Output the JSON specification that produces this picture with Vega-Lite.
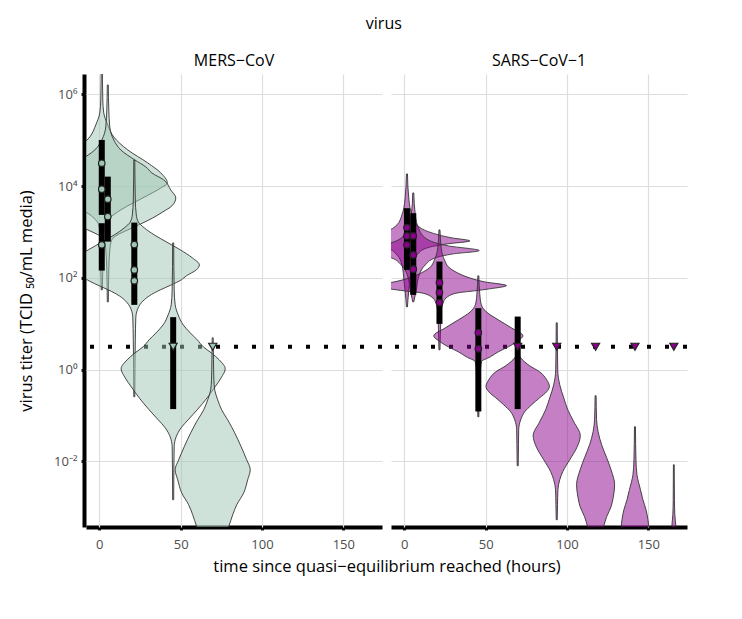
{
"$schema": "https://vega.github.io/schema/vega-lite/v6.json",
"padding": {"left": 18, "top": 16, "right": 5, "bottom": 5},
"title": {"text": "virus", "fontSize": 16, "fontWeight": "normal", "font": "Open Sans", "color": "black", "anchor": "middle", "frame": "bounds", "dx": 30, "offset": 21},
"data": {"values": [
{"virus":"MERS−CoV","kind":"lodline","L":0.5},
{"virus":"SARS−CoV−1","kind":"lodline","L":0.5},
{"virus":"MERS−CoV","kind":"violin","vid":"M1","L":6.747,"lo":1.19,"hi":1.81},
{"virus":"MERS−CoV","kind":"violin","vid":"M1","L":5.876,"lo":0.88,"hi":2.12},
{"virus":"MERS−CoV","kind":"violin","vid":"M1","L":5.593,"lo":0.27,"hi":2.73},
{"virus":"MERS−CoV","kind":"violin","vid":"M1","L":5.332,"lo":-2.19,"hi":5.19},
{"virus":"MERS−CoV","kind":"violin","vid":"M1","L":5.07,"lo":-5.88,"hi":8.88},
{"virus":"MERS−CoV","kind":"violin","vid":"M1","L":4.787,"lo":-14.5,"hi":17.5},
{"virus":"MERS−CoV","kind":"violin","vid":"M1","L":4.504,"lo":-26.8,"hi":29.8},
{"virus":"MERS−CoV","kind":"violin","vid":"M1","L":4.286,"lo":-34.8,"hi":37.8},
{"virus":"MERS−CoV","kind":"violin","vid":"M1","L":4.069,"lo":-38.8,"hi":41.8},
{"virus":"MERS−CoV","kind":"violin","vid":"M1","L":3.96,"lo":-34.8,"hi":37.8},
{"virus":"MERS−CoV","kind":"violin","vid":"M1","L":3.764,"lo":-24.9,"hi":27.9},
{"virus":"MERS−CoV","kind":"violin","vid":"M1","L":3.481,"lo":-10.2,"hi":13.2},
{"virus":"MERS−CoV","kind":"violin","vid":"M1","L":3.307,"lo":-3.42,"hi":6.42},
{"virus":"MERS−CoV","kind":"violin","vid":"M1","L":3.154,"lo":-0.35,"hi":3.35},
{"virus":"MERS−CoV","kind":"violin","vid":"M1","L":2.827,"lo":0.58,"hi":2.42},
{"virus":"MERS−CoV","kind":"violin","vid":"M1","L":2.174,"lo":0.88,"hi":2.12},
{"virus":"MERS−CoV","kind":"violin","vid":"M1","L":1.739,"lo":1.19,"hi":1.81},
{"virus":"MERS−CoV","kind":"violin","vid":"M2","L":6.203,"lo":4.89,"hi":5.51},
{"virus":"MERS−CoV","kind":"violin","vid":"M2","L":5.658,"lo":4.58,"hi":5.82},
{"virus":"MERS−CoV","kind":"violin","vid":"M2","L":5.288,"lo":3.97,"hi":6.43},
{"virus":"MERS−CoV","kind":"violin","vid":"M2","L":5.005,"lo":1.51,"hi":8.89},
{"virus":"MERS−CoV","kind":"violin","vid":"M2","L":4.787,"lo":-2.8,"hi":13.2},
{"virus":"MERS−CoV","kind":"violin","vid":"M2","L":4.57,"lo":-11.4,"hi":21.8},
{"virus":"MERS−CoV","kind":"violin","vid":"M2","L":4.417,"lo":-18.2,"hi":28.6},
{"virus":"MERS−CoV","kind":"violin","vid":"M2","L":4.286,"lo":-21.9,"hi":32.3},
{"virus":"MERS−CoV","kind":"violin","vid":"M2","L":4.134,"lo":-29.2,"hi":39.6},
{"virus":"MERS−CoV","kind":"violin","vid":"M2","L":3.916,"lo":-33.5,"hi":43.9},
{"virus":"MERS−CoV","kind":"violin","vid":"M2","L":3.742,"lo":-36.6,"hi":47.0},
{"virus":"MERS−CoV","kind":"violin","vid":"M2","L":3.568,"lo":-34.2,"hi":44.6},
{"virus":"MERS−CoV","kind":"violin","vid":"M2","L":3.437,"lo":-28.6,"hi":39.0},
{"virus":"MERS−CoV","kind":"violin","vid":"M2","L":3.307,"lo":-22.5,"hi":32.9},
{"virus":"MERS−CoV","kind":"violin","vid":"M2","L":3.176,"lo":-15.1,"hi":25.5},
{"virus":"MERS−CoV","kind":"violin","vid":"M2","L":3.045,"lo":-7.1,"hi":17.5},
{"virus":"MERS−CoV","kind":"violin","vid":"M2","L":2.915,"lo":0.28,"hi":10.12},
{"virus":"MERS−CoV","kind":"violin","vid":"M2","L":2.806,"lo":3.05,"hi":7.35},
{"virus":"MERS−CoV","kind":"violin","vid":"M2","L":2.61,"lo":3.97,"hi":6.43},
{"virus":"MERS−CoV","kind":"violin","vid":"M2","L":2.174,"lo":4.58,"hi":5.82},
{"virus":"MERS−CoV","kind":"violin","vid":"M2","L":1.477,"lo":4.89,"hi":5.51},
{"virus":"MERS−CoV","kind":"violin","vid":"M3","L":4.57,"lo":21.19,"hi":21.81},
{"virus":"MERS−CoV","kind":"violin","vid":"M3","L":3.698,"lo":20.88,"hi":22.12},
{"virus":"MERS−CoV","kind":"violin","vid":"M3","L":3.372,"lo":20.27,"hi":22.73},
{"virus":"MERS−CoV","kind":"violin","vid":"M3","L":3.219,"lo":19.04,"hi":23.96},
{"virus":"MERS−CoV","kind":"violin","vid":"M3","L":3.089,"lo":15.35,"hi":27.65},
{"virus":"MERS−CoV","kind":"violin","vid":"M3","L":2.936,"lo":9.2,"hi":33.8},
{"virus":"MERS−CoV","kind":"violin","vid":"M3","L":2.784,"lo":1.8,"hi":41.2},
{"virus":"MERS−CoV","kind":"violin","vid":"M3","L":2.61,"lo":-6.8,"hi":49.8},
{"virus":"MERS−CoV","kind":"violin","vid":"M3","L":2.436,"lo":-14.2,"hi":57.2},
{"virus":"MERS−CoV","kind":"violin","vid":"M3","L":2.283,"lo":-18.5,"hi":61.5},
{"virus":"MERS−CoV","kind":"violin","vid":"M3","L":2.174,"lo":-16.6,"hi":59.6},
{"virus":"MERS−CoV","kind":"violin","vid":"M3","L":2.044,"lo":-10.5,"hi":53.5},
{"virus":"MERS−CoV","kind":"violin","vid":"M3","L":1.957,"lo":-7.4,"hi":50.4},
{"virus":"MERS−CoV","kind":"violin","vid":"M3","L":1.848,"lo":-1.3,"hi":44.3},
{"virus":"MERS−CoV","kind":"violin","vid":"M3","L":1.739,"lo":5.5,"hi":37.5},
{"virus":"MERS−CoV","kind":"violin","vid":"M3","L":1.608,"lo":12.3,"hi":30.7},
{"virus":"MERS−CoV","kind":"violin","vid":"M3","L":1.456,"lo":17.2,"hi":25.8},
{"virus":"MERS−CoV","kind":"violin","vid":"M3","L":1.303,"lo":19.65,"hi":23.35},
{"virus":"MERS−CoV","kind":"violin","vid":"M3","L":1.129,"lo":20.58,"hi":22.42},
{"virus":"MERS−CoV","kind":"violin","vid":"M3","L":0.65,"lo":20.88,"hi":22.12},
{"virus":"MERS−CoV","kind":"violin","vid":"M3","L":-0.591,"lo":21.19,"hi":21.81},
{"virus":"MERS−CoV","kind":"violin","vid":"M4","L":2.762,"lo":45.09,"hi":45.71},
{"virus":"MERS−CoV","kind":"violin","vid":"M4","L":1.739,"lo":44.78,"hi":46.02},
{"virus":"MERS−CoV","kind":"violin","vid":"M4","L":1.412,"lo":44.17,"hi":46.63},
{"virus":"MERS−CoV","kind":"violin","vid":"M4","L":1.194,"lo":42.32,"hi":48.48},
{"virus":"MERS−CoV","kind":"violin","vid":"M4","L":0.977,"lo":39.25,"hi":51.55},
{"virus":"MERS−CoV","kind":"violin","vid":"M4","L":0.802,"lo":34.9,"hi":55.9},
{"virus":"MERS−CoV","kind":"violin","vid":"M4","L":0.65,"lo":30.6,"hi":60.2},
{"virus":"MERS−CoV","kind":"violin","vid":"M4","L":0.498,"lo":26.9,"hi":63.9},
{"virus":"MERS−CoV","kind":"violin","vid":"M4","L":0.367,"lo":22.0,"hi":68.8},
{"virus":"MERS−CoV","kind":"violin","vid":"M4","L":0.214,"lo":17.1,"hi":73.7},
{"virus":"MERS−CoV","kind":"violin","vid":"M4","L":0.019,"lo":13.4,"hi":77.4},
{"virus":"MERS−CoV","kind":"violin","vid":"M4","L":-0.177,"lo":15.9,"hi":74.9},
{"virus":"MERS−CoV","kind":"violin","vid":"M4","L":-0.373,"lo":19.6,"hi":71.2},
{"virus":"MERS−CoV","kind":"violin","vid":"M4","L":-0.613,"lo":24.5,"hi":66.3},
{"virus":"MERS−CoV","kind":"violin","vid":"M4","L":-0.874,"lo":30.6,"hi":60.2},
{"virus":"MERS−CoV","kind":"violin","vid":"M4","L":-1.092,"lo":36.2,"hi":54.6},
{"virus":"MERS−CoV","kind":"violin","vid":"M4","L":-1.266,"lo":40.5,"hi":50.3},
{"virus":"MERS−CoV","kind":"violin","vid":"M4","L":-1.462,"lo":43.55,"hi":47.25},
{"virus":"MERS−CoV","kind":"violin","vid":"M4","L":-1.68,"lo":44.78,"hi":46.02},
{"virus":"MERS−CoV","kind":"violin","vid":"M4","L":-2.181,"lo":44.97,"hi":45.83},
{"virus":"MERS−CoV","kind":"violin","vid":"M4","L":-2.834,"lo":45.09,"hi":45.71},
{"virus":"MERS−CoV","kind":"violin","vid":"M5","L":0.694,"lo":69.39,"hi":70.01},
{"virus":"MERS−CoV","kind":"violin","vid":"M5","L":0.214,"lo":69.21,"hi":70.19},
{"virus":"MERS−CoV","kind":"violin","vid":"M5","L":-0.221,"lo":68.96,"hi":70.44},
{"virus":"MERS−CoV","kind":"violin","vid":"M5","L":-0.439,"lo":68.47,"hi":70.93},
{"virus":"MERS−CoV","kind":"violin","vid":"M5","L":-0.657,"lo":66.62,"hi":72.78},
{"virus":"MERS−CoV","kind":"violin","vid":"M5","L":-0.874,"lo":64.2,"hi":75.2},
{"virus":"MERS−CoV","kind":"violin","vid":"M5","L":-1.092,"lo":60.5,"hi":78.9},
{"virus":"MERS−CoV","kind":"violin","vid":"M5","L":-1.375,"lo":56.2,"hi":83.2},
{"virus":"MERS−CoV","kind":"violin","vid":"M5","L":-1.68,"lo":52.2,"hi":87.2},
{"virus":"MERS−CoV","kind":"violin","vid":"M5","L":-1.963,"lo":48.8,"hi":90.6},
{"virus":"MERS−CoV","kind":"violin","vid":"M5","L":-2.181,"lo":46.6,"hi":92.8},
{"virus":"MERS−CoV","kind":"violin","vid":"M5","L":-2.399,"lo":48.2,"hi":91.2},
{"virus":"MERS−CoV","kind":"violin","vid":"M5","L":-2.682,"lo":50.6,"hi":88.8},
{"virus":"MERS−CoV","kind":"violin","vid":"M5","L":-2.943,"lo":54.9,"hi":84.5},
{"virus":"MERS−CoV","kind":"violin","vid":"M5","L":-3.161,"lo":57.4,"hi":82.0},
{"virus":"MERS−CoV","kind":"violin","vid":"M5","L":-3.422,"lo":59.9,"hi":79.5},
{"virus":"MERS−CoV","kind":"violin","vid":"M5","L":-3.814,"lo":64.8,"hi":74.6},
{"virus":"SARS−CoV−1","kind":"violin","vid":"S1","L":4.265,"lo":1.29,"hi":1.91},
{"virus":"SARS−CoV−1","kind":"violin","vid":"S1","L":3.698,"lo":0.37,"hi":2.83},
{"virus":"SARS−CoV−1","kind":"violin","vid":"S1","L":3.372,"lo":-1.48,"hi":4.68},
{"virus":"SARS−CoV−1","kind":"violin","vid":"S1","L":3.154,"lo":-4.55,"hi":7.75},
{"virus":"SARS−CoV−1","kind":"violin","vid":"S1","L":3.002,"lo":-11.9,"hi":15.1},
{"virus":"SARS−CoV−1","kind":"violin","vid":"S1","L":2.871,"lo":-26.1,"hi":29.3},
{"virus":"SARS−CoV−1","kind":"violin","vid":"S1","L":2.806,"lo":-37.1,"hi":40.3},
{"virus":"SARS−CoV−1","kind":"violin","vid":"S1","L":2.74,"lo":-23.0,"hi":26.2},
{"virus":"SARS−CoV−1","kind":"violin","vid":"S1","L":2.653,"lo":-10.7,"hi":13.9},
{"virus":"SARS−CoV−1","kind":"violin","vid":"S1","L":2.501,"lo":-4.55,"hi":7.75},
{"virus":"SARS−CoV−1","kind":"violin","vid":"S1","L":2.283,"lo":-1.48,"hi":4.68},
{"virus":"SARS−CoV−1","kind":"violin","vid":"S1","L":1.957,"lo":-0.25,"hi":3.45},
{"virus":"SARS−CoV−1","kind":"violin","vid":"S1","L":1.521,"lo":0.98,"hi":2.22},
{"virus":"SARS−CoV−1","kind":"violin","vid":"S1","L":1.369,"lo":1.29,"hi":1.91},
{"virus":"SARS−CoV−1","kind":"violin","vid":"S2","L":3.851,"lo":5.19,"hi":5.81},
{"virus":"SARS−CoV−1","kind":"violin","vid":"S2","L":3.372,"lo":4.27,"hi":6.73},
{"virus":"SARS−CoV−1","kind":"violin","vid":"S2","L":3.045,"lo":1.81,"hi":9.19},
{"virus":"SARS−CoV−1","kind":"violin","vid":"S2","L":2.827,"lo":-3.7,"hi":14.7},
{"virus":"SARS−CoV−1","kind":"violin","vid":"S2","L":2.697,"lo":-16.0,"hi":27.0},
{"virus":"SARS−CoV−1","kind":"violin","vid":"S2","L":2.594,"lo":-35.1,"hi":46.1},
{"virus":"SARS−CoV−1","kind":"violin","vid":"S2","L":2.523,"lo":-19.1,"hi":30.1},
{"virus":"SARS−CoV−1","kind":"violin","vid":"S2","L":2.436,"lo":-8.0,"hi":19.0},
{"virus":"SARS−CoV−1","kind":"violin","vid":"S2","L":2.283,"lo":-1.9,"hi":12.9},
{"virus":"SARS−CoV−1","kind":"violin","vid":"S2","L":2.065,"lo":1.81,"hi":9.19},
{"virus":"SARS−CoV−1","kind":"violin","vid":"S2","L":1.739,"lo":3.65,"hi":7.35},
{"virus":"SARS−CoV−1","kind":"violin","vid":"S2","L":1.477,"lo":5.19,"hi":5.81},
{"virus":"SARS−CoV−1","kind":"violin","vid":"S3","L":3.045,"lo":21.29,"hi":21.91},
{"virus":"SARS−CoV−1","kind":"violin","vid":"S3","L":2.61,"lo":20.37,"hi":22.83},
{"virus":"SARS−CoV−1","kind":"violin","vid":"S3","L":2.392,"lo":18.52,"hi":24.68},
{"virus":"SARS−CoV−1","kind":"violin","vid":"S3","L":2.218,"lo":15.45,"hi":27.75},
{"virus":"SARS−CoV−1","kind":"violin","vid":"S3","L":2.109,"lo":10.5,"hi":32.7},
{"virus":"SARS−CoV−1","kind":"violin","vid":"S3","L":2.0,"lo":3.1,"hi":40.1},
{"virus":"SARS−CoV−1","kind":"violin","vid":"S3","L":1.913,"lo":-6.1,"hi":49.3},
{"virus":"SARS−CoV−1","kind":"violin","vid":"S3","L":1.832,"lo":-19.6,"hi":62.8},
{"virus":"SARS−CoV−1","kind":"violin","vid":"S3","L":1.761,"lo":-9.2,"hi":52.4},
{"virus":"SARS−CoV−1","kind":"violin","vid":"S3","L":1.717,"lo":0.1,"hi":43.1},
{"virus":"SARS−CoV−1","kind":"violin","vid":"S3","L":1.673,"lo":10.5,"hi":32.7},
{"virus":"SARS−CoV−1","kind":"violin","vid":"S3","L":1.586,"lo":16.68,"hi":26.52},
{"virus":"SARS−CoV−1","kind":"violin","vid":"S3","L":1.477,"lo":19.14,"hi":24.06},
{"virus":"SARS−CoV−1","kind":"violin","vid":"S3","L":1.303,"lo":20.37,"hi":22.83},
{"virus":"SARS−CoV−1","kind":"violin","vid":"S3","L":0.868,"lo":20.98,"hi":22.22},
{"virus":"SARS−CoV−1","kind":"violin","vid":"S3","L":0.432,"lo":21.29,"hi":21.91},
{"virus":"SARS−CoV−1","kind":"violin","vid":"S4","L":2.044,"lo":45.19,"hi":45.81},
{"virus":"SARS−CoV−1","kind":"violin","vid":"S4","L":1.63,"lo":44.58,"hi":46.42},
{"virus":"SARS−CoV−1","kind":"violin","vid":"S4","L":1.412,"lo":43.65,"hi":47.35},
{"virus":"SARS−CoV−1","kind":"violin","vid":"S4","L":1.26,"lo":40.58,"hi":50.42},
{"virus":"SARS−CoV−1","kind":"violin","vid":"S4","L":1.085,"lo":33.2,"hi":57.8},
{"virus":"SARS−CoV−1","kind":"violin","vid":"S4","L":0.911,"lo":25.2,"hi":65.8},
{"virus":"SARS−CoV−1","kind":"violin","vid":"S4","L":0.737,"lo":18.1,"hi":72.9},
{"virus":"SARS−CoV−1","kind":"violin","vid":"S4","L":0.606,"lo":22.1,"hi":68.9},
{"virus":"SARS−CoV−1","kind":"violin","vid":"S4","L":0.498,"lo":27.0,"hi":64.0},
{"virus":"SARS−CoV−1","kind":"violin","vid":"S4","L":0.389,"lo":33.2,"hi":57.8},
{"virus":"SARS−CoV−1","kind":"violin","vid":"S4","L":0.28,"lo":38.1,"hi":52.9},
{"virus":"SARS−CoV−1","kind":"violin","vid":"S4","L":0.171,"lo":43.65,"hi":47.35},
{"virus":"SARS−CoV−1","kind":"violin","vid":"S4","L":-0.221,"lo":44.58,"hi":46.42},
{"virus":"SARS−CoV−1","kind":"violin","vid":"S4","L":-1.027,"lo":45.19,"hi":45.81},
{"virus":"SARS−CoV−1","kind":"violin","vid":"S5","L":0.389,"lo":69.39,"hi":70.01},
{"virus":"SARS−CoV−1","kind":"violin","vid":"S5","L":0.258,"lo":67.85,"hi":71.55},
{"virus":"SARS−CoV−1","kind":"violin","vid":"S5","L":0.084,"lo":62.3,"hi":77.1},
{"virus":"SARS−CoV−1","kind":"violin","vid":"S5","L":-0.047,"lo":56.2,"hi":83.2},
{"virus":"SARS−CoV−1","kind":"violin","vid":"S5","L":-0.221,"lo":51.9,"hi":87.5},
{"virus":"SARS−CoV−1","kind":"violin","vid":"S5","L":-0.367,"lo":50.2,"hi":89.2},
{"virus":"SARS−CoV−1","kind":"violin","vid":"S5","L":-0.482,"lo":51.9,"hi":87.5},
{"virus":"SARS−CoV−1","kind":"violin","vid":"S5","L":-0.613,"lo":56.2,"hi":83.2},
{"virus":"SARS−CoV−1","kind":"violin","vid":"S5","L":-0.765,"lo":61.1,"hi":78.3},
{"virus":"SARS−CoV−1","kind":"violin","vid":"S5","L":-0.918,"lo":65.4,"hi":74.0},
{"virus":"SARS−CoV−1","kind":"violin","vid":"S5","L":-1.092,"lo":67.85,"hi":71.55},
{"virus":"SARS−CoV−1","kind":"violin","vid":"S5","L":-1.31,"lo":69.08,"hi":70.32},
{"virus":"SARS−CoV−1","kind":"violin","vid":"S5","L":-1.636,"lo":69.21,"hi":70.19},
{"virus":"SARS−CoV−1","kind":"violin","vid":"S5","L":-2.094,"lo":69.39,"hi":70.01},
{"virus":"SARS−CoV−1","kind":"violin","vid":"S6","L":1.02,"lo":93.39,"hi":94.01},
{"virus":"SARS−CoV−1","kind":"violin","vid":"S6","L":-0.003,"lo":93.08,"hi":94.32},
{"virus":"SARS−CoV−1","kind":"violin","vid":"S6","L":-0.33,"lo":91.85,"hi":95.55},
{"virus":"SARS−CoV−1","kind":"violin","vid":"S6","L":-0.613,"lo":89.4,"hi":98.0},
{"virus":"SARS−CoV−1","kind":"violin","vid":"S6","L":-0.874,"lo":86.9,"hi":100.5},
{"virus":"SARS−CoV−1","kind":"violin","vid":"S6","L":-1.136,"lo":83.2,"hi":104.2},
{"virus":"SARS−CoV−1","kind":"violin","vid":"S6","L":-1.44,"lo":79.2,"hi":108.2},
{"virus":"SARS−CoV−1","kind":"violin","vid":"S6","L":-1.702,"lo":81.4,"hi":106.0},
{"virus":"SARS−CoV−1","kind":"violin","vid":"S6","L":-1.963,"lo":85.7,"hi":101.7},
{"virus":"SARS−CoV−1","kind":"violin","vid":"S6","L":-2.224,"lo":90.0,"hi":97.4},
{"virus":"SARS−CoV−1","kind":"violin","vid":"S6","L":-2.399,"lo":91.85,"hi":95.55},
{"virus":"SARS−CoV−1","kind":"violin","vid":"S6","L":-2.616,"lo":92.96,"hi":94.44},
{"virus":"SARS−CoV−1","kind":"violin","vid":"S6","L":-2.943,"lo":93.21,"hi":94.19},
{"virus":"SARS−CoV−1","kind":"violin","vid":"S6","L":-3.27,"lo":93.39,"hi":94.01},
{"virus":"SARS−CoV−1","kind":"violin","vid":"S7","L":-0.569,"lo":117.29,"hi":117.91},
{"virus":"SARS−CoV−1","kind":"violin","vid":"S7","L":-1.092,"lo":116.98,"hi":118.22},
{"virus":"SARS−CoV−1","kind":"violin","vid":"S7","L":-1.353,"lo":116.06,"hi":119.14},
{"virus":"SARS−CoV−1","kind":"violin","vid":"S7","L":-1.636,"lo":113.9,"hi":121.3},
{"virus":"SARS−CoV−1","kind":"violin","vid":"S7","L":-1.919,"lo":110.8,"hi":124.4},
{"virus":"SARS−CoV−1","kind":"violin","vid":"S7","L":-2.181,"lo":108.1,"hi":127.1},
{"virus":"SARS−CoV−1","kind":"violin","vid":"S7","L":-2.507,"lo":105.9,"hi":129.3},
{"virus":"SARS−CoV−1","kind":"violin","vid":"S7","L":-2.79,"lo":106.8,"hi":128.4},
{"virus":"SARS−CoV−1","kind":"violin","vid":"S7","L":-2.986,"lo":108.1,"hi":127.1},
{"virus":"SARS−CoV−1","kind":"violin","vid":"S7","L":-3.204,"lo":110.8,"hi":124.4},
{"virus":"SARS−CoV−1","kind":"violin","vid":"S7","L":-3.422,"lo":112.7,"hi":122.5},
{"virus":"SARS−CoV−1","kind":"violin","vid":"S7","L":-3.814,"lo":115.75,"hi":119.45},
{"virus":"SARS−CoV−1","kind":"violin","vid":"S8","L":-1.244,"lo":141.49,"hi":142.11},
{"virus":"SARS−CoV−1","kind":"violin","vid":"S8","L":-1.963,"lo":141.18,"hi":142.42},
{"virus":"SARS−CoV−1","kind":"violin","vid":"S8","L":-2.29,"lo":140.57,"hi":143.03},
{"virus":"SARS−CoV−1","kind":"violin","vid":"S8","L":-2.616,"lo":138.4,"hi":145.2},
{"virus":"SARS−CoV−1","kind":"violin","vid":"S8","L":-2.834,"lo":136.9,"hi":146.7},
{"virus":"SARS−CoV−1","kind":"violin","vid":"S8","L":-3.052,"lo":135.0,"hi":148.6},
{"virus":"SARS−CoV−1","kind":"violin","vid":"S8","L":-3.27,"lo":133.8,"hi":149.8},
{"virus":"SARS−CoV−1","kind":"violin","vid":"S8","L":-3.422,"lo":133.4,"hi":150.2},
{"virus":"SARS−CoV−1","kind":"violin","vid":"S8","L":-3.814,"lo":133.2,"hi":150.4},
{"virus":"SARS−CoV−1","kind":"violin","vid":"S9","L":-2.072,"lo":165.45,"hi":165.95},
{"virus":"SARS−CoV−1","kind":"violin","vid":"S9","L":-2.834,"lo":165.33,"hi":166.07},
{"virus":"SARS−CoV−1","kind":"violin","vid":"S9","L":-3.161,"lo":165.08,"hi":166.32},
{"virus":"SARS−CoV−1","kind":"violin","vid":"S9","L":-3.422,"lo":164.47,"hi":166.93},
{"virus":"SARS−CoV−1","kind":"violin","vid":"S9","L":-3.814,"lo":163.85,"hi":167.55},
{"virus":"MERS−CoV","kind":"bar","t":1.5,"L":5.005,"L2":3.372},
{"virus":"MERS−CoV","kind":"bar","t":1.5,"L":3.191,"L2":2.159},
{"virus":"MERS−CoV","kind":"bar","t":5.2,"L":4.206,"L2":2.79},
{"virus":"MERS−CoV","kind":"bar","t":21.5,"L":3.204,"L2":1.412},
{"virus":"MERS−CoV","kind":"bar","t":45.4,"L":1.144,"L2":-0.859},
{"virus":"SARS−CoV−1","kind":"bar","t":1.6,"L":3.518,"L2":2.174},
{"virus":"SARS−CoV−1","kind":"bar","t":5.5,"L":3.409,"L2":1.63},
{"virus":"SARS−CoV−1","kind":"bar","t":21.6,"L":2.355,"L2":0.998},
{"virus":"SARS−CoV−1","kind":"bar","t":45.5,"L":1.34,"L2":-0.911},
{"virus":"SARS−CoV−1","kind":"bar","t":69.7,"L":1.157,"L2":-0.859},
{"virus":"MERS−CoV","kind":"obs","t":1.5,"L":4.498},
{"virus":"MERS−CoV","kind":"obs","t":1.5,"L":3.932},
{"virus":"MERS−CoV","kind":"obs","t":1.5,"L":2.719},
{"virus":"MERS−CoV","kind":"obs","t":5.2,"L":3.714},
{"virus":"MERS−CoV","kind":"obs","t":5.2,"L":3.335},
{"virus":"MERS−CoV","kind":"obs","t":21.5,"L":2.725},
{"virus":"MERS−CoV","kind":"obs","t":21.5,"L":2.174},
{"virus":"MERS−CoV","kind":"obs","t":21.5,"L":1.935},
{"virus":"SARS−CoV−1","kind":"obs","t":1.6,"L":3.095},
{"virus":"SARS−CoV−1","kind":"obs","t":1.6,"L":2.915},
{"virus":"SARS−CoV−1","kind":"obs","t":1.6,"L":2.719},
{"virus":"SARS−CoV−1","kind":"obs","t":5.5,"L":2.915},
{"virus":"SARS−CoV−1","kind":"obs","t":5.5,"L":2.501},
{"virus":"SARS−CoV−1","kind":"obs","t":5.5,"L":2.189},
{"virus":"SARS−CoV−1","kind":"obs","t":21.6,"L":1.898},
{"virus":"SARS−CoV−1","kind":"obs","t":21.6,"L":1.68},
{"virus":"SARS−CoV−1","kind":"obs","t":21.6,"L":1.462},
{"virus":"SARS−CoV−1","kind":"obs","t":45.5,"L":0.809},
{"virus":"SARS−CoV−1","kind":"obs","t":45.5,"L":0.454},
{"virus":"MERS−CoV","kind":"lod","t":45.4,"L":0.5},
{"virus":"MERS−CoV","kind":"lod","t":69.7,"L":0.5},
{"virus":"SARS−CoV−1","kind":"lod","t":69.7,"L":0.5},
{"virus":"SARS−CoV−1","kind":"lod","t":93.7,"L":0.5},
{"virus":"SARS−CoV−1","kind":"lod","t":117.6,"L":0.5},
{"virus":"SARS−CoV−1","kind":"lod","t":141.8,"L":0.5},
{"virus":"SARS−CoV−1","kind":"lod","t":165.7,"L":0.5}
]},
"facet": {"column": {"field": "virus", "type": "nominal", "sort": ["MERS−CoV", "SARS−CoV−1"],
  "title": "time since quasi−equilibrium reached (hours)",
  "header": {"labelOrient": "top", "titleOrient": "bottom", "labelFontSize": 16, "labelFont": "Open Sans", "labelColor": "black", "labelPadding": 5, "titleFontSize": 16.5, "titleFont": "Open Sans", "titleFontWeight": "normal", "titleColor": "black", "titlePadding": -2}}},
"spacing": 5,
"spec": {
  "width": 296, "height": 453,
  "layer": [
    {"transform": [{"filter": "datum.kind == 'lodline'"}],
     "mark": {"type": "rule", "color": "black", "strokeWidth": 4, "strokeDash": [4, 14], "strokeCap": "butt"},
     "encoding": {"y": {"field": "L", "type": "quantitative", "scale": {"domain": [-3.428, 6.442], "nice": false, "zero": false},
        "axis": {"title": "virus titer (TCID  ₅₀/mL media)", "values": [-2, 0, 2, 4, 6],
          "labelExpr": "datum.value == 6 ? '10⁶' : datum.value == 4 ? '10⁴' : datum.value == 2 ? '10²' : datum.value == 0 ? '10⁰' : '10⁻²'"}}}},
    {"transform": [{"filter": "datum.kind == 'violin'"}],
     "mark": {"type": "area", "orient": "horizontal", "clip": true, "fillOpacity": 0.5, "stroke": "#333333", "strokeWidth": 0.9, "interpolate": "monotone"},
     "encoding": {
       "y": {"field": "L", "type": "quantitative"},
       "x": {"field": "hi", "type": "quantitative", "scale": {"domain": [-8.2, 173.8], "nice": false, "zero": false}, "axis": {"title": null, "values": [0, 50, 100, 150]}},
       "x2": {"field": "lo"},
       "fill": {"field": "virus", "type": "nominal", "scale": {"domain": ["MERS−CoV", "SARS−CoV−1"], "range": ["#9fc5b3", "#8b008b"]}, "legend": null},
       "detail": {"field": "vid"}}},
    {"transform": [{"filter": "datum.kind == 'bar'"}],
     "mark": {"type": "rule", "color": "black", "strokeWidth": 6, "strokeCap": "butt"},
     "encoding": {"x": {"field": "t", "type": "quantitative"}, "y": {"field": "L", "type": "quantitative"}, "y2": {"field": "L2"}}},
    {"transform": [{"filter": "datum.kind == 'obs'"}],
     "mark": {"type": "point", "shape": "circle", "filled": true, "size": 42, "stroke": "#222222", "strokeWidth": 1.2, "opacity": 1},
     "encoding": {"x": {"field": "t", "type": "quantitative"}, "y": {"field": "L", "type": "quantitative"}, "fill": {"field": "virus", "type": "nominal", "legend": null}}},
    {"transform": [{"filter": "datum.kind == 'lod'"}],
     "mark": {"type": "point", "shape": "triangle-down", "filled": true, "size": 65, "stroke": "#222222", "strokeWidth": 1.2, "opacity": 1},
     "encoding": {"x": {"field": "t", "type": "quantitative"}, "y": {"field": "L", "type": "quantitative"}, "fill": {"field": "virus", "type": "nominal", "legend": null}}}
  ]
},
"config": {
  "font": "Open Sans",
  "view": {"stroke": null},
  "axis": {"grid": true, "gridColor": "#dedede", "gridWidth": 1.2, "domainColor": "black", "domainWidth": 4, "tickColor": "#222222", "tickSize": 3, "tickWidth": 3, "labelColor": "#4d4d4d", "labelFontSize": 13, "labelFont": "Open Sans", "labelPadding": 4, "titleFont": "Open Sans", "titleFontSize": 16.5, "titleFontWeight": "normal", "titleColor": "black"},
  "axisY": {"titlePadding": 19},
  "axisX": {"labelPadding": 8}
}
}
